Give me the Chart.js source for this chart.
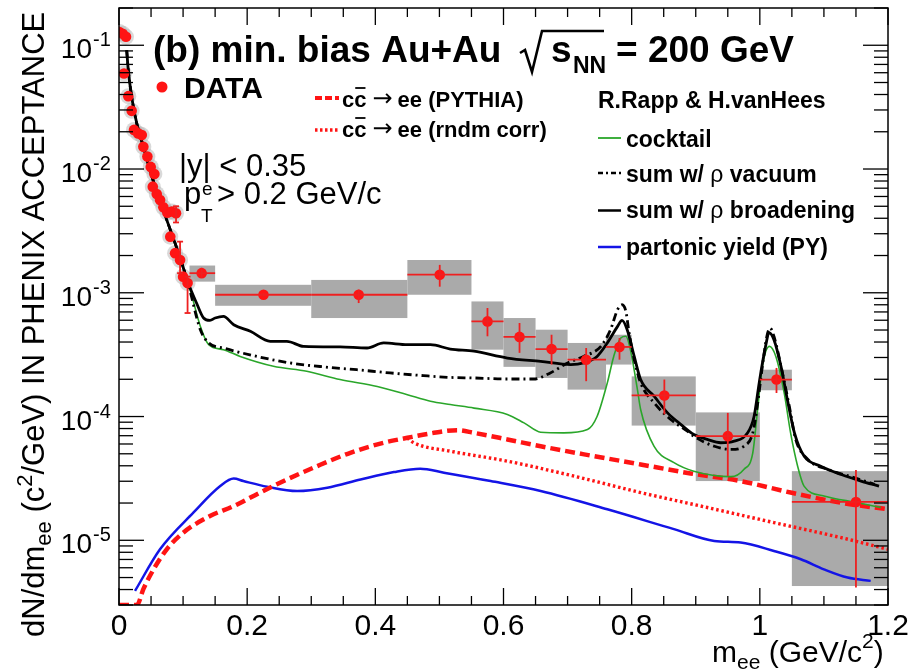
<!DOCTYPE html>
<html><head><meta charset="utf-8">
<script src="https://cdn.jsdelivr.net/npm/chart.js@4.4.1/dist/chart.umd.min.js"></script>
<style>html,body{margin:0;padding:0;background:#fff;overflow:hidden}</style>
</head><body>
<canvas id="c" width="912" height="670"></canvas>
<script>
// ---------- tick labels ----------
const xTickVals = [0, 0.2, 0.4, 0.6, 0.8, 1.0, 1.2];
const xTickLabels = ['0', '0.2', '0.4', '0.6', '0.8', '1', '1.2'];
const yTickVals = [1e-1, 1e-2, 1e-3, 1e-4, 1e-5];
const yTickExps = ['-1', '-2', '-3', '-4', '-5'];

// ---------- low-mass data points ----------
const lowX = [0.0005,0.0058,0.0078,0.0109,0.0145,0.0198,0.0234,0.030,0.0355,0.038,0.0443,0.0495,0.0527,0.0552,0.0589,0.0641,0.0692,0.0755,0.080,0.0823,0.0875,0.089,0.0953,0.100,0.107];
const lowY = [0.128,0.124,0.0591,0.117,0.0388,0.0295,0.0207,0.0194,0.0188,0.0151,0.0126,0.0104,0.0072,0.00912,0.00628,0.00562,0.00491,0.00444,0.00284,0.00453,0.00209,0.00439,0.00184,0.00135,0.00120];
const lowErrX = [0.089, 0.0953, 0.107];
const lowErrHi = [0.0050, 0.00259, 0.00135];
const lowErrLo = [0.0037, 0.00144, 0.000686];

// ---------- binned data points ----------
const binX  = [0.129, 0.2255, 0.374, 0.5005, 0.575, 0.625, 0.675, 0.729, 0.781, 0.851, 0.950, 1.026, 1.150];
const binY  = [0.00144, 0.000964, 0.000964, 0.00140, 0.000587, 0.000440, 0.000351, 0.000288, 0.000365, 0.000148, 0.0000694, 0.000199, 0.0000204];
const binLo = [0.11, 0.15, 0.30, 0.45, 0.55, 0.60, 0.65, 0.70, 0.76, 0.80, 0.90, 1.00, 1.05];
const binHi = [0.15, 0.30, 0.45, 0.55, 0.60, 0.65, 0.70, 0.76, 0.80, 0.90, 1.00, 1.05, 1.20];
const statHi = [0.00159, 0.00100, 0.00106, 0.00168, 0.000753, 0.000570, 0.000458, 0.000358, 0.000431, 0.000199, 0.000107, 0.000247, 0.0000369];
const statLo = [0.00132, 0.00093, 0.000826, 0.00112, 0.000445, 0.000327, 0.000263, 0.000193, 0.000288, 0.000104, 0.0000330, 0.000155, 0.00000416];
const sysHi = [0.00166, 0.00116, 0.00127, 0.00184, 0.000851, 0.000625, 0.000503, 0.000393, 0.000458, 0.000211, 0.000108, 0.000239, 0.0000362];
const sysLo = [0.00123, 0.000785, 0.000625, 0.000964, 0.000347, 0.000252, 0.000205, 0.000165, 0.000263, 0.0000845, 0.0000301, 0.000163, 0.00000427];

// ---------- sum w/ rho broadening ----------
const broadX = [0.012,0.0145,0.0198,0.0277,0.038,0.0484,0.0614,0.0745,0.0875,0.098,0.108,0.121,0.132,0.142,0.150,0.163,0.179,0.205,0.236,0.262,0.288,0.345,0.387,0.413,0.450,0.486,0.517,0.554,0.606,0.658,0.705,0.725,0.746,0.762,0.778,0.785,0.793,0.804,0.814,0.835,0.856,0.877,0.897,0.918,0.939,0.960,0.981,0.991,0.999,1.007,1.015,1.022,1.033,1.043,1.054,1.069,1.095,1.127,1.158,1.186];
const broadY = [0.0912,0.0628,0.0383,0.0234,0.0152,0.00982,0.00598,0.00388,0.00252,0.00174,0.00120,0.000826,0.000625,0.000598,0.000625,0.000644,0.000552,0.000488,0.000405,0.000405,0.000369,0.000365,0.000358,0.000393,0.000381,0.000381,0.000351,0.000337,0.000297,0.000279,0.000263,0.000271,0.000306,0.000393,0.000535,0.000598,0.000503,0.000306,0.000199,0.000146,0.000107,0.0000861,0.0000716,0.0000653,0.0000614,0.0000632,0.0000738,0.000100,0.000187,0.000327,0.000473,0.000418,0.000255,0.000137,0.0000738,0.0000479,0.0000397,0.0000340,0.0000301,0.0000274];

// ---------- sum w/ rho vacuum ----------
const vacX = [0.012,0.0145,0.0198,0.0277,0.038,0.0484,0.0614,0.0745,0.0875,0.098,0.108,0.127,0.140,0.163,0.215,0.267,0.319,0.371,0.423,0.475,0.517,0.554,0.606,0.647,0.673,0.700,0.725,0.752,0.767,0.778,0.785,0.791,0.796,0.804,0.814,0.835,0.861,0.887,0.897,0.929,0.955,0.975,0.989,0.996,1.004,1.011,1.016,1.022,1.033,1.046,1.056,1.075,1.106,1.147,1.179];
const vacY = [0.0912,0.0628,0.0383,0.0234,0.0152,0.00982,0.00598,0.00388,0.00252,0.00174,0.00118,0.000503,0.000393,0.000358,0.000306,0.000271,0.000252,0.000239,0.000225,0.000214,0.000207,0.000205,0.000201,0.000201,0.000225,0.000271,0.000306,0.000369,0.000503,0.000730,0.000800,0.000706,0.000473,0.000288,0.000187,0.000129,0.0000946,0.0000761,0.0000693,0.0000575,0.0000542,0.0000575,0.0000738,0.000121,0.000255,0.000445,0.000519,0.000445,0.000255,0.000121,0.0000653,0.0000450,0.0000374,0.0000321,0.0000283];

// ---------- cocktail ----------
const cockX = [0.012,0.0145,0.0198,0.0277,0.038,0.0484,0.0614,0.0745,0.0875,0.098,0.111,0.127,0.140,0.163,0.189,0.241,0.293,0.345,0.403,0.450,0.486,0.517,0.554,0.606,0.632,0.658,0.694,0.731,0.746,0.762,0.772,0.783,0.791,0.798,0.809,0.814,0.835,0.866,0.897,0.955,0.975,0.989,0.996,1.004,1.015,1.025,1.038,1.048,1.059,1.069,1.100,1.153,1.189];
const cockY = [0.0900,0.0620,0.0378,0.0231,0.0150,0.00970,0.00590,0.00383,0.00249,0.00170,0.00106,0.000535,0.000381,0.000347,0.000306,0.000255,0.000232,0.000199,0.000175,0.000150,0.000133,0.000125,0.000117,0.000104,0.0000889,0.0000747,0.0000738,0.0000785,0.000100,0.000187,0.000306,0.000431,0.000445,0.000347,0.000165,0.000114,0.0000575,0.0000424,0.0000362,0.0000327,0.0000374,0.0000509,0.000107,0.000255,0.000369,0.000306,0.000155,0.0000738,0.0000397,0.0000274,0.0000228,0.0000201,0.0000184];

// ---------- c cbar -> ee (PYTHIA) ----------
const pythX = [0,0.028,0.038,0.054,0.0745,0.100,0.142,0.179,0.220,0.262,0.309,0.361,0.413,0.450,0.486,0.528,0.554,0.606,0.658,0.736,0.814,0.892,0.970,1.048,1.127,1.200];
const pythY = [3.0e-6,3.0e-6,4.03e-6,5.83e-6,8.46e-6,1.15e-5,1.57e-5,1.89e-5,2.43e-5,3.10e-5,3.97e-5,5.09e-5,6.14e-5,6.73e-5,7.30e-5,7.76e-5,7.38e-5,6.53e-5,5.75e-5,4.84e-5,4.10e-5,3.47e-5,3.01e-5,2.43e-5,2.01e-5,1.78e-5];

// ---------- c cbar -> ee (rndm corr) ----------
const rndmX = [0.450,0.460,0.517,0.606,0.710,0.814,0.918,1.022,1.127,1.200];
const rndmY = [6.73e-5,6.14e-5,5.25e-5,4.36e-5,3.30e-5,2.43e-5,1.84e-5,1.39e-5,1.05e-5,8.46e-6];

// ---------- partonic yield ----------
const pyX = [0.025,0.064,0.116,0.158,0.179,0.194,0.231,0.278,0.325,0.377,0.429,0.470,0.507,0.580,0.658,0.762,0.866,0.929,0.970,1.022,1.064,1.100,1.137,1.173];
const pyY = [3.90e-6,8.46e-6,1.67e-5,2.74e-5,3.15e-5,3.01e-5,2.71e-5,2.50e-5,2.66e-5,3.10e-5,3.56e-5,3.79e-5,3.52e-5,3.01e-5,2.50e-5,1.78e-5,1.23e-5,9.87e-6,9.58e-6,8.20e-6,7.03e-6,5.83e-6,5.00e-6,4.70e-6];

const zip = (xs, ys) => xs.map((x, i) => ({x, y: ys[i]}));
const FONT = '"Liberation Sans", Arial, Helvetica, sans-serif';
const fnt = (s, b) => (b ? 'bold ' : '') + s + 'px ' + FONT;
const RED = '#ff1414', GREEN = '#2aa62a', BLUE = '#1414e6', GREY = '#aaaaaa';

function line(ctx, x0, y0, x1, y1) { ctx.beginPath(); ctx.moveTo(x0, y0); ctx.lineTo(x1, y1); ctx.stroke(); }

const overlay = {
  id: 'overlay',
  beforeDatasetsDraw(chart) {
    const ctx = chart.ctx, xs = chart.scales.x, ys = chart.scales.y, a = chart.chartArea;
    ctx.save();
    ctx.beginPath(); ctx.rect(a.left, a.top, a.right - a.left, a.bottom - a.top); ctx.clip();
    ctx.fillStyle = GREY;
    for (let i = 0; i < binX.length; i++) {
      const x0 = xs.getPixelForValue(binLo[i]), x1 = xs.getPixelForValue(binHi[i]);
      const y0 = ys.getPixelForValue(sysHi[i]), y1 = ys.getPixelForValue(sysLo[i]);
      ctx.fillRect(x0, y0, x1 - x0, y1 - y0);
    }
    ctx.restore();
  },
  afterDatasetsDraw(chart) {
    const ctx = chart.ctx, xs = chart.scales.x, ys = chart.scales.y;
    ctx.save();
    ctx.strokeStyle = '#ee2020'; ctx.lineWidth = 1.8;
    for (let i = 0; i < binX.length; i++) {
      const xc = xs.getPixelForValue(binX[i]), yc = ys.getPixelForValue(binY[i]);
      line(ctx, xs.getPixelForValue(binLo[i]), yc, xs.getPixelForValue(binHi[i]), yc);
      line(ctx, xc, ys.getPixelForValue(statHi[i]), xc, ys.getPixelForValue(statLo[i]));
    }
    for (let i = 0; i < lowErrX.length; i++) {
      const xc = xs.getPixelForValue(lowErrX[i]);
      const y0 = ys.getPixelForValue(lowErrHi[i]), y1 = ys.getPixelForValue(lowErrLo[i]);
      line(ctx, xc, y0, xc, y1);
      line(ctx, xc - 3, y0, xc + 3, y0); line(ctx, xc - 3, y1, xc + 3, y1);
    }
    ctx.restore();
  },
  afterDraw(chart) {
    const ctx = chart.ctx, xs = chart.scales.x, ys = chart.scales.y, a = chart.chartArea;
    ctx.save();
    ctx.strokeStyle = '#000'; ctx.fillStyle = '#000'; ctx.lineWidth = 1.5;
    // frame
    ctx.strokeRect(a.left, a.top, a.right - a.left, a.bottom - a.top);
    // x ticks
    ctx.lineWidth = 1.3;
    for (let k = 0; k <= 24; k++) {
      const v = k * 0.05, X = xs.getPixelForValue(v);
      const L = (k % 4 === 0) ? 17 : 9;
      line(ctx, X, a.bottom, X, a.bottom - L);
      line(ctx, X, a.top, X, a.top + L);
    }
    // y ticks
    for (let e = -6; e <= -1; e++) {
      for (let m = 1; m <= 9; m++) {
        const v = m * Math.pow(10, e);
        if (v < ys.min * 0.999 || v > ys.max * 1.001) continue;
        const Y = ys.getPixelForValue(v), L = (m === 1) ? 25 : 14;
        line(ctx, a.left, Y, a.left + L, Y);
        line(ctx, a.right, Y, a.right - L, Y);
      }
    }
    // x tick labels
    ctx.font = fnt(30); ctx.textAlign = 'center'; ctx.textBaseline = 'alphabetic';
    xTickVals.forEach((v, i) => ctx.fillText(xTickLabels[i], xs.getPixelForValue(v), 635));
    // y tick labels
    yTickVals.forEach((v, i) => {
      const Y = ys.getPixelForValue(v);
      ctx.font = fnt(28); ctx.textAlign = 'right'; ctx.fillText('10', 92, Y + 13);
      ctx.font = fnt(20); ctx.textAlign = 'left'; ctx.fillText(yTickExps[i], 93, Y + 1);
    });
    ctx.textAlign = 'left';
    // y axis title
    ctx.save();
    ctx.translate(44, 637); ctx.rotate(-Math.PI / 2);
    let cx = 0;
    const put = (t, f, dy) => { ctx.font = f; ctx.fillText(t, cx, dy || 0); cx += ctx.measureText(t).width; };
    put('dN/dm', fnt(31)); put('ee', fnt(22), 7); put(' (c', fnt(31)); put('2', fnt(22), -12);
    put('/GeV) IN PHENIX ACCEPTANCE', fnt(31));
    ctx.restore();
    // x axis title
    cx = 712;
    const putx = (t, f, y) => { ctx.font = f; ctx.fillText(t, cx, y); cx += ctx.measureText(t).width; };
    putx('m', fnt(30), 662); putx('ee', fnt(21), 669); putx(' (GeV/c', fnt(30), 662); putx('2', fnt(21), 648); putx(')', fnt(30), 662);

    // title
    ctx.font = fnt(37, true);
    ctx.fillText('(b) min. bias Au+Au', 153, 62);
    ctx.lineWidth = 2.6; ctx.lineJoin = 'miter';
    ctx.beginPath(); ctx.moveTo(520, 53); ctx.lineTo(525, 50); ctx.lineTo(532, 72); ctx.lineTo(542, 31); ctx.lineTo(604, 31); ctx.stroke();
    ctx.fillText('s', 551, 62);
    ctx.font = fnt(23, true); ctx.fillText('NN', 573, 73);
    ctx.font = fnt(37, true); ctx.fillText('= 200 GeV', 616, 62);

    // DATA
    ctx.fillStyle = RED; ctx.beginPath(); ctx.arc(162, 87, 5.5, 0, 2 * Math.PI); ctx.fill();
    ctx.fillStyle = '#000'; ctx.font = fnt(30, true); ctx.fillText('DATA', 184, 98);

    // cuts
    ctx.font = fnt(31); ctx.fillText('|y| < 0.35', 179, 176);
    ctx.fillText('p', 184, 204);
    ctx.font = fnt(19); ctx.fillText('T', 201, 222); ctx.fillText('e', 202, 195);
    ctx.font = fnt(31); ctx.fillText('> 0.2 GeV/c', 217, 204);

    // left legend (c cbar)
    ctx.lineCap = 'butt';
    ctx.strokeStyle = RED; ctx.lineWidth = 4.2; ctx.setLineDash([7, 3]);
    line(ctx, 315, 98, 339, 98);
    ctx.lineWidth = 3.4; ctx.setLineDash([2.5, 2.5]);
    line(ctx, 315, 130, 339, 130);
    ctx.setLineDash([]);
    const ccbar = (x, y, rest) => {
      ctx.font = fnt(22, true); ctx.fillStyle = '#000'; ctx.strokeStyle = '#000';
      ctx.fillText('c', x, y);
      const w = ctx.measureText('c').width;
      ctx.fillText('c', x + w, y);
      ctx.lineWidth = 1.8; line(ctx, x + w + 1, y - 19, x + 2 * w - 1, y - 19);
      let px = x + 2 * w + 6;
      ctx.font = '24px "DejaVu Sans", sans-serif';
      ctx.fillText('\u2192', px, y - 1);
      px += ctx.measureText('\u2192').width + 5;
      ctx.font = fnt(22, true);
      ctx.fillText('ee ' + rest, px, y);
    };
    ccbar(342, 107, '(PYTHIA)');
    ccbar(342, 137, '(rndm corr)');

    // right legend
    ctx.fillStyle = '#000';
    ctx.font = fnt(23, true); ctx.fillText('R.Rapp & H.vanHees', 598, 108);
    ctx.strokeStyle = GREEN; ctx.lineWidth = 1.8; line(ctx, 598, 138, 621, 138);
    ctx.strokeStyle = '#000'; ctx.lineWidth = 2.5; ctx.setLineDash([5, 3, 2, 3]); line(ctx, 598, 173, 621, 173);
    ctx.setLineDash([]); ctx.lineWidth = 2.5; line(ctx, 598, 210.5, 621, 210.5);
    ctx.strokeStyle = BLUE; line(ctx, 598, 247, 621, 247);
    const rich = (x, y, parts) => { let px = x; parts.forEach(p => { ctx.font = p[1]; ctx.fillText(p[0], px, y); px += ctx.measureText(p[0]).width; }); };
    rich(626, 147, [['cocktail', fnt(23, true)]]);
    rich(626, 182, [['sum w/ ', fnt(23, true)], ['\u03c1', fnt(23)], [' vacuum', fnt(23, true)]]);
    rich(626, 218, [['sum w/ ', fnt(23, true)], ['\u03c1', fnt(23)], [' broadening', fnt(23, true)]]);
    rich(626, 255, [['partonic yield (PY)', fnt(23, true)]]);
    ctx.restore();
  }
};

const lineDs = (label, xs, ys, color, width, dash, order) => ({
  type: 'line', label, data: zip(xs, ys), borderColor: color, borderWidth: width,
  borderDash: dash, pointRadius: 0, fill: false, cubicInterpolationMode: 'monotone', order
});

new Chart(document.getElementById('c'), {
  type: 'scatter',
  data: {
    datasets: [
      { label: 'DATA', data: zip(lowX, lowY).concat(zip(binX, binY)), backgroundColor: RED, borderWidth: 0, pointRadius: 5.3, order: 0 },
      { label: 'halo', data: zip(lowX, lowY), backgroundColor: 'rgba(180,180,180,0.5)', borderWidth: 0, pointRadius: 8, order: 9 },
      lineDs('sum w/ rho broadening', broadX, broadY, '#000', 2.8, [], 1),
      lineDs('sum w/ rho vacuum', vacX, vacY, '#000', 2.8, [8, 4, 2, 4], 2),
      lineDs('cocktail', cockX, cockY, GREEN, 1.6, [], 3),
      lineDs('ccbar PYTHIA', pythX, pythY, RED, 4.5, [10, 5], 4),
      lineDs('ccbar rndm corr', rndmX, rndmY, RED, 3.4, [2.5, 2.8], 5),
      lineDs('partonic yield', pyX, pyY, BLUE, 2.5, [], 6)
    ]
  },
  options: {
    responsive: false, animation: false, devicePixelRatio: 1, events: [],
    layout: { padding: { left: 119, right: 24, top: 8, bottom: 65 } },
    plugins: { legend: { display: false }, tooltip: { enabled: false }, title: { display: false } },
    scales: {
      x: { type: 'linear', min: 0, max: 1.2, display: false },
      y: { type: 'logarithmic', min: 3e-6, max: 0.2, display: false }
    }
  },
  plugins: [overlay]
});
</script>
</body></html>
